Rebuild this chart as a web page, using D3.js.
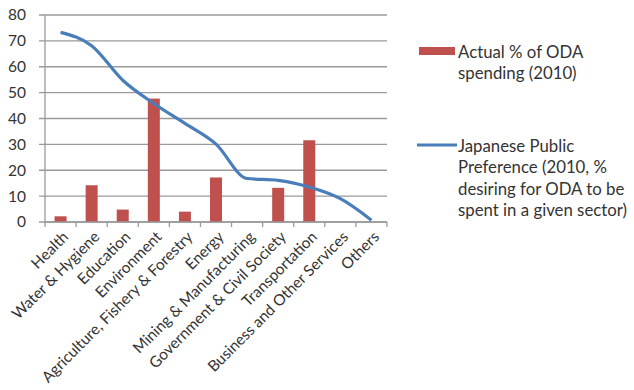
<!DOCTYPE html>
<html><head><meta charset="utf-8">
<script src="https://cdn.jsdelivr.net/npm/d3@7"></script>
<style>
body{margin:0;background:#fff;}
svg{display:block;font-family:Lato, "Open Sans", sans-serif;}
</style></head>
<body>
<svg id="chart" width="634" height="390"></svg>
<script>
const categories = ["Health","Water & Hygiene","Education","Environment","Agriculture, Fishery & Forestry","Energy","Mining & Manufacturing","Government & Civil Society","Transportation","Business and Other Services","Others"];
const actualSpending = [2.2, 14.2, 4.8, 47.7, 4.0, 17.2, 0, 13.2, 31.6, 0, 0];
const publicPreference = [73.3, 68.1, 54.8, 45.8, 38.1, 30.1, 16.8, 16.1, 13.5, 9.0, 0.7];
const yTicks = [0,10,20,30,40,50,60,70,80];
const legendBar = ["Actual % of ODA", "spending (2010)"];
const legendLine = ["Japanese Public", "Preference (2010, %", "desiring for ODA to be", "spent in a given sector)"];

(function(){
const svg = d3.select("#chart");
const pL = 45, pR = 387, pT = 15, pB = 222;
const gridColor = "#9a9a9a", textColor = "#333";

const x = d3.scaleBand().domain(categories).range([pL, pR]).paddingInner(0).paddingOuter(0);
const y = d3.scaleLinear().domain([0, 80]).range([pB, pT]);

svg.append("g").selectAll("line").data(yTicks).join("line")
  .attr("x1", pL - 6).attr("x2", pR)
  .attr("y1", d => y(d)).attr("y2", d => y(d))
  .attr("stroke", gridColor).attr("stroke-width", 1.3);

svg.append("line").attr("x1", pL).attr("x2", pL).attr("y1", pT).attr("y2", pB)
  .attr("stroke", gridColor).attr("stroke-width", 1.3);

svg.append("g").selectAll("text").data(yTicks).join("text")
  .attr("x", pL - 19).attr("y", d => y(d)).attr("dy", "0.35em")
  .attr("text-anchor", "end").attr("font-size", 15.5).attr("fill", textColor)
  .text(d => d);

const bw = 12;
svg.append("g").selectAll("rect").data(categories).join("rect")
  .attr("x", (d) => x(d) + x.bandwidth()/2 - bw/2)
  .attr("width", bw)
  .attr("y", (d,i) => y(actualSpending[i]))
  .attr("height", (d,i) => y(0) - y(actualSpending[i]))
  .attr("fill", "#c0504d");

svg.append("line").attr("x1", pL).attr("x2", pR).attr("y1", pB).attr("y2", pB)
  .attr("stroke", gridColor).attr("stroke-width", 1.3);
const bounds = categories.map(d => x(d)).concat([pR]);
svg.append("g").selectAll("line").data(bounds).join("line")
  .attr("x1", d => d).attr("x2", d => d).attr("y1", pB).attr("y2", pB + 5)
  .attr("stroke", gridColor).attr("stroke-width", 1.3);

const line = d3.line()
  .x((d,i) => x(categories[i]) + x.bandwidth()/2)
  .y(d => y(d))
  .curve(d3.curveMonotoneX);
svg.append("path").datum(publicPreference)
  .attr("d", line).attr("fill", "none")
  .attr("stroke", "#4a7ebb").attr("stroke-width", 3.2).attr("stroke-linejoin","round");

svg.append("g").selectAll("text").data(categories).join("text")
  .attr("transform", d => `translate(${x(d) + x.bandwidth()/2 + 5},${pB + 12}) rotate(-45)`)
  .attr("text-anchor", "end").attr("dy", "0.35em")
  .attr("font-size", 15.4).attr("fill", textColor)
  .text(d => d);

svg.append("rect").attr("x", 419).attr("y", 47).attr("width", 36).attr("height", 8).attr("fill", "#c0504d");
svg.append("g").selectAll("text").data(legendBar).join("text")
  .attr("x", 458).attr("y", (d,i) => 58 + i*21)
  .attr("font-size", 16.8).attr("fill", textColor).text(d => d);

svg.append("line").attr("x1", 417).attr("x2", 457).attr("y1", 145).attr("y2", 145)
  .attr("stroke", "#4a7ebb").attr("stroke-width", 3.2);
svg.append("g").selectAll("text").data(legendLine).join("text")
  .attr("x", 458).attr("y", (d,i) => 152 + i*21.3)
  .attr("font-size", 16.8).attr("fill", textColor).text(d => d);
})();
</script>
</body></html>
